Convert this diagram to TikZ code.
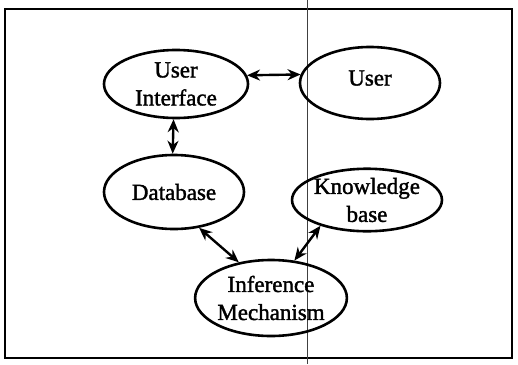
\documentclass[tikz,border=0pt]{standalone}
\usepackage{fontspec}
\setmainfont{Liberation Serif}
\newfontfamily\inkfont[FakeBold=1.6]{Liberation Serif}
\usetikzlibrary{shapes.geometric,arrows.meta}
\begin{document}
\begin{tikzpicture}[x=1pt,y=-1pt,
  blob/.style={ellipse, draw, line width=2.6pt, inner sep=0pt, align=center,
    font=\inkfont\fontsize{23}{28}\selectfont},
  link/.style={line width=2.4pt, {Stealth[length=13pt,width=11pt]}-{Stealth[length=13pt,width=11pt]}}]
  \useasboundingbox (0,0) rectangle (518,364);
  % outer frame
  \draw[line width=2pt] (5,9) rectangle (512,358);
  % thin vertical rule across the page
  \draw[line width=0.8pt, black!75] (307,0) -- (307,364);
  % components
  \node[blob, minimum width=144pt, minimum height=68pt] (ui) at (176,84) {User\\Interface};
  \node[blob, minimum width=140pt, minimum height=72pt, text height=16pt, text depth=11pt] (user) at (370,83) {User};
  \node[blob, minimum width=140pt, minimum height=74pt] (db) at (174,192) {Database};
  \node[blob, minimum width=140pt, minimum height=60pt] (kb) at (367,200) {Knowledge\\base};
  \node[blob, minimum width=142pt, minimum height=76pt] (im) at (271,298) {Inference\\Mechanism};
  % two-way links
  \draw[link] (ui.7) -- (user.173);
  \draw[link] (ui.266) -- (db.92);
  \draw[link] (db.-55) -- (im.132);
  \draw[link] (kb.-151) -- (im.58);
\end{tikzpicture}
\end{document}
